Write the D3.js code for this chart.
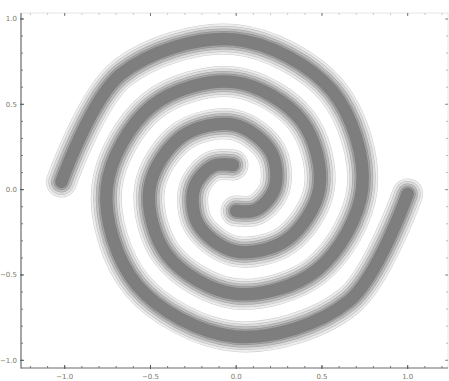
<!DOCTYPE html>
<html lang="en">
<head>
  <meta charset="UTF-8">
  <title>Double spiral</title>
  <style>
    html, body { margin: 0; padding: 0; background: #fff; }
    svg { display: block; }
    .tick-label { font-family: "DejaVu Sans", sans-serif; font-size: 7px; fill: #7a7a6e; }
  </style>
</head>
<body>
  <svg id="chart" width="449" height="381"></svg>

  <script src="https://d3js.org/d3.v7.min.js"></script>
  <script>
    // angle turned from the outer tip (degrees, clockwise) and radius
    const armAngles = [2, 45, 90, 135, 180, 225, 270, 315, 360, 405, 450, 495, 540, 585, 626];
    const armRadii  = [1.01, 0.94, 0.87, 0.805, 0.745, 0.68, 0.62, 0.555, 0.495, 0.43, 0.37, 0.30, 0.235, 0.18, 0.135];
    // start direction of each arm (math degrees)
    const armStarts = [180, 0];
    const spiralCenter = [-0.01, 0.01];

    const xTicks = [-1.0, -0.5, 0.0, 0.5, 1.0];
    const yTicks = [-1.0, -0.5, 0.0, 0.5, 1.0];
    const xMinor = d3.range(-12, 13).map(d => d / 10);
    const yMinor = d3.range(-10, 11).map(d => d / 10);

    const svg = d3.select('#chart');
    const plotLeft = 21, plotRight = 448, plotTop = 13, plotBottom = 368;

    const x = d3.scaleLinear().domain([-1.255, 1.235]).range([plotLeft, plotRight]);
    const y = d3.scaleLinear().domain([-1.045, 1.035]).range([plotBottom, plotTop]);

    // points of one arm in data space
    function armPoints(start) {
      return armAngles.map((a, i) => {
        const t = (start - a) * Math.PI / 180;
        return [spiralCenter[0] + armRadii[i] * Math.cos(t), spiralCenter[1] + armRadii[i] * Math.sin(t)];
      });
    }

    const line = d3.line()
      .x(d => x(d[0]))
      .y(d => y(d[1]))
      .curve(d3.curveCatmullRom.alpha(0.5));

    // contour-like shading: wide pale bands down to a dark core
    const bands = [
      [31, '#cdcdcd'],
      [30, '#ededed'],
      [26, '#bdbdbd'],
      [25, '#dbdbdb'],
      [21, '#a4a4a4'],
      [20, '#bcbcbc'],
      [16, '#8c8c8c'],
      [15, '#a2a2a2'],
      [12.5, '#7e7e7e']
    ];

    const arms = armStarts.map(armPoints);
    const g = svg.append('g');

    bands.forEach(([w, c]) => {
      g.selectAll(null)
        .data(arms)
        .enter().append('path')
        .attr('d', line)
        .attr('fill', 'none')
        .attr('stroke', c)
        .attr('stroke-width', w)
        .attr('stroke-linecap', 'round')
        .attr('stroke-linejoin', 'round');
    });

    // frame
    const frame = svg.append('g');
    frame.append('line').attr('x1', plotLeft).attr('x2', plotRight).attr('y1', plotTop).attr('y2', plotTop)
      .attr('stroke', '#e6e6e6');
    frame.append('line').attr('x1', plotRight).attr('x2', plotRight).attr('y1', plotTop).attr('y2', plotBottom)
      .attr('stroke', '#e6e6e6');
    frame.append('line').attr('x1', plotLeft).attr('x2', plotLeft).attr('y1', plotTop).attr('y2', plotBottom + 0.5)
      .attr('stroke', '#6a6a6a').attr('stroke-width', 1.2);
    frame.append('line').attr('x1', plotLeft).attr('x2', plotRight).attr('y1', plotBottom).attr('y2', plotBottom)
      .attr('stroke', '#6a6a6a').attr('stroke-width', 1.2);

    // minor ticks
    frame.selectAll(null).data(xMinor).enter().append('line')
      .attr('x1', d => x(d)).attr('x2', d => x(d))
      .attr('y1', plotBottom).attr('y2', plotBottom - 2)
      .attr('stroke', '#777');
    frame.selectAll(null).data(xMinor).enter().append('line')
      .attr('x1', d => x(d)).attr('x2', d => x(d))
      .attr('y1', plotTop).attr('y2', plotTop + 2)
      .attr('stroke', '#ccc');
    frame.selectAll(null).data(yMinor).enter().append('line')
      .attr('y1', d => y(d)).attr('y2', d => y(d))
      .attr('x1', plotLeft).attr('x2', plotLeft + 2)
      .attr('stroke', '#777');
    frame.selectAll(null).data(yMinor).enter().append('line')
      .attr('y1', d => y(d)).attr('y2', d => y(d))
      .attr('x1', plotRight).attr('x2', plotRight - 2)
      .attr('stroke', '#bbb');

    // major ticks
    frame.selectAll(null).data(xTicks).enter().append('line')
      .attr('x1', d => x(d)).attr('x2', d => x(d))
      .attr('y1', plotBottom + 1).attr('y2', plotBottom - 3)
      .attr('stroke', '#555');
    frame.selectAll(null).data(xTicks).enter().append('line')
      .attr('x1', d => x(d)).attr('x2', d => x(d))
      .attr('y1', plotTop).attr('y2', plotTop + 3)
      .attr('stroke', '#777');
    frame.selectAll(null).data(yTicks).enter().append('line')
      .attr('y1', d => y(d)).attr('y2', d => y(d))
      .attr('x1', plotLeft - 1).attr('x2', plotLeft + 3)
      .attr('stroke', '#555');
    frame.selectAll(null).data(yTicks).enter().append('line')
      .attr('y1', d => y(d)).attr('y2', d => y(d))
      .attr('x1', plotRight).attr('x2', plotRight - 3)
      .attr('stroke', '#999');

    // tick labels
    frame.selectAll(null).data(xTicks).enter().append('text')
      .attr('class', 'tick-label')
      .attr('x', d => x(d))
      .attr('y', 379)
      .attr('text-anchor', 'middle')
      .text(d => d3.format('.1f')(d).replace('-', '\u2212'));
    frame.selectAll(null).data(yTicks).enter().append('text')
      .attr('class', 'tick-label')
      .attr('x', 17)
      .attr('y', d => y(d) + 2.5)
      .attr('text-anchor', 'end')
      .text(d => d3.format('.1f')(d).replace('-', '\u2212'));
  </script>
</body>
</html>
